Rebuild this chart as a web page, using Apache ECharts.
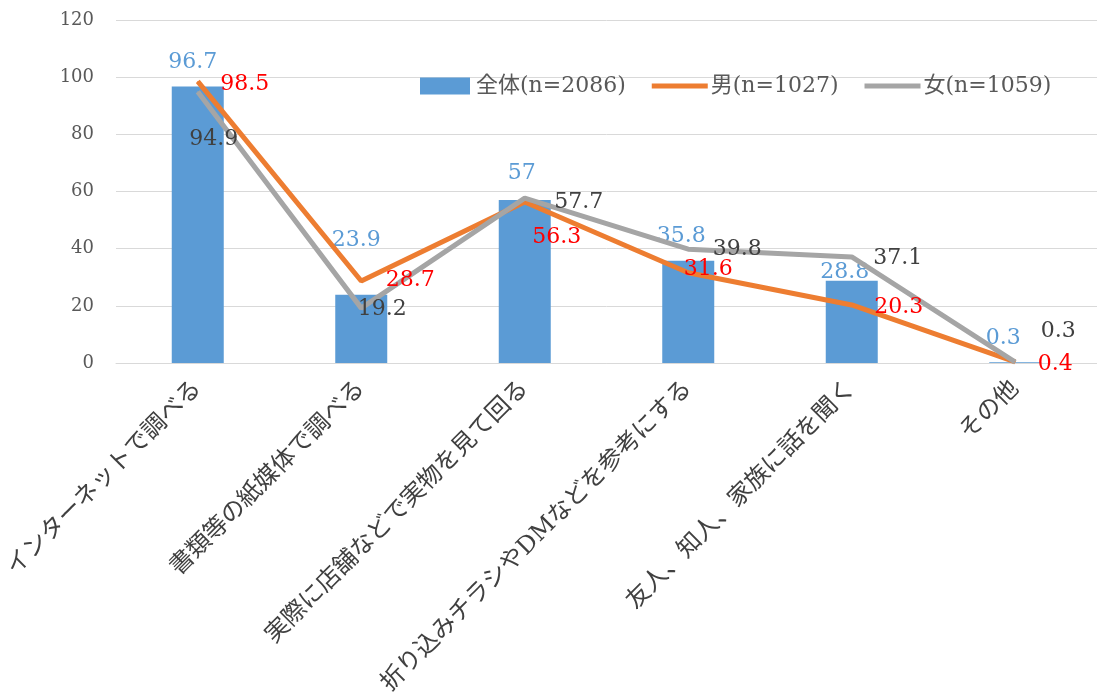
<!DOCTYPE html>
<html>
<head>
<meta charset="utf-8">
<script src="https://cdn.jsdelivr.net/npm/echarts@6/dist/echarts.min.js"></script>
<style>
  html, body { margin: 0; padding: 0; background: #fff; }
  #chartmain { width: 1097px; height: 695px; }
</style>
</head>
<body>
<div id="chartmain"></div>
<script>
var categories = ['インターネットで調べる', '書類等の紙媒体で調べる', '実際に店舗などで実物を見て回る',
  '折り込みチラシやDMなどを参考にする', '友人、知人、家族に話を聞く', 'その他'];
var allValues = [96.7, 23.9, 57, 35.8, 28.8, 0.3];
var maleValues = [98.5, 28.7, 56.3, 31.6, 20.3, 0.4];
var femaleValues = [94.9, 19.2, 57.7, 39.8, 37.1, 0.3];
var seriesNames = ['全体(n=2086)', '男(n=1027)', '女(n=1059)'];
var yTicks = { min: 0, max: 120, interval: 20 };

// ラベルの位置調整（元のグラフで手動配置されている分）
var allOffsets = [[-5, -13], [-5, -43], [-3, -16], [-7, -13], [-7, 3], [-12, -13]];
var maleOffsets = [[47, 3], [49, -1], [32, 35], [20, -3], [47, 2], [40, 2]];
var femaleOffsets = [[16, 48], [21, 1], [54, 4], [49, 0], [46, 1], [43, -31]];

var numFont = '"DejaVu Serif", "Noto Sans CJK JP", serif';

function withOffsets(values, offsets) {
  return values.map(function (v, i) {
    return { value: v, label: { offset: offsets[i] } };
  });
}

var lineIcon = 'path://M0,0 L56,0 L56,5 L0,5 Z';

var option = {
  animation: false,
  grid: { left: 116, right: 0, top: 20, bottom: 332, containLabel: false, outerBoundsMode: 'none' },
  legend: {
    top: 70,
    left: 415,
    itemWidth: 56,
    itemHeight: 17,
    itemGap: 26,
    textStyle: { fontFamily: numFont, fontSize: 22, color: '#595959', padding: [0, 0, 0, -2] },
    data: [
      { name: seriesNames[0], icon: 'path://M0,0 L50,0 L50,17 L0,17 Z' },
      { name: seriesNames[1], icon: lineIcon },
      { name: seriesNames[2], icon: lineIcon }
    ]
  },
  xAxis: {
    type: 'category',
    data: categories,
    axisLine: { lineStyle: { color: '#d9d9d9' } },
    axisTick: { show: false },
    axisLabel: {
      rotate: 45,
      interval: 0,
      margin: 22,
      fontSize: 24,
      color: '#404040',
      fontFamily: numFont
    }
  },
  yAxis: {
    type: 'value',
    min: yTicks.min,
    max: yTicks.max,
    interval: yTicks.interval,
    axisLine: { show: false },
    axisTick: { show: false },
    splitLine: { lineStyle: { color: '#d9d9d9', width: 1 } },
    axisLabel: { fontSize: 18, color: '#595959', margin: 22, fontFamily: numFont }
  },
  series: [
    {
      name: seriesNames[0],
      type: 'bar',
      barWidth: 52,
      itemStyle: { color: '#5b9bd5' },
      label: {
        show: true, position: 'top', distance: 0,
        color: '#5b9bd5', fontSize: 22, fontFamily: numFont
      },
      data: withOffsets(allValues, allOffsets)
    },
    {
      name: seriesNames[1],
      type: 'line',
      symbol: 'circle',
      symbolSize: 1,
      itemStyle: { color: '#ed7d31' },
      lineStyle: { color: '#ed7d31', width: 5 },
      label: {
        show: true, position: 'inside',
        color: '#ff0000', fontSize: 22, fontFamily: numFont
      },
      data: withOffsets(maleValues, maleOffsets)
    },
    {
      name: seriesNames[2],
      type: 'line',
      symbol: 'circle',
      symbolSize: 1,
      itemStyle: { color: '#a5a5a5' },
      lineStyle: { color: '#a5a5a5', width: 5 },
      label: {
        show: true, position: 'inside',
        color: '#404040', fontSize: 22, fontFamily: numFont
      },
      data: withOffsets(femaleValues, femaleOffsets)
    }
  ]
};

var myChart = echarts.init(document.getElementById('chartmain'));
myChart.setOption(option);
</script>
</body>
</html>
